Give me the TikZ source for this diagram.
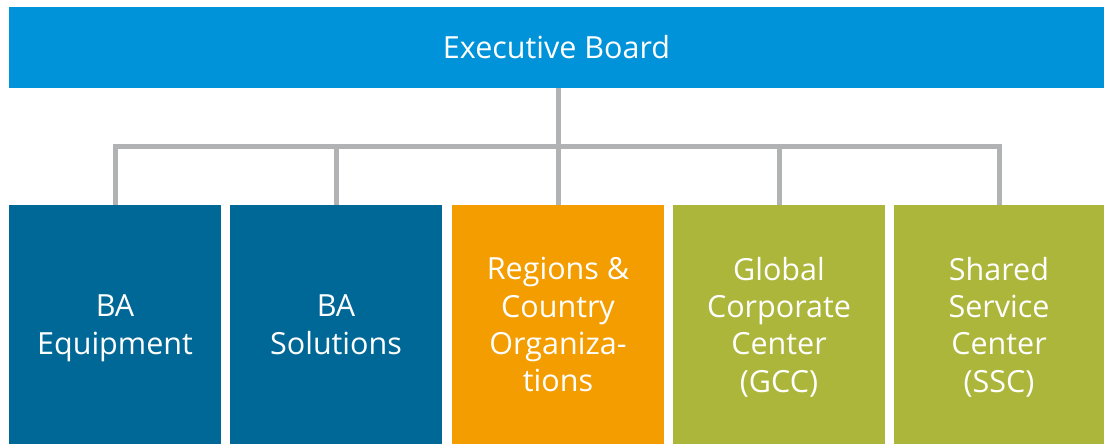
\documentclass[tikz,border=0pt]{standalone}
\usepackage{fontspec}
\setmainfont{Open Sans}
\definecolor{ebblue}{RGB}{0,147,217}
\definecolor{bablue}{RGB}{0,104,150}
\definecolor{rorange}{RGB}{243,157,0}
\definecolor{ggreen}{RGB}{172,182,58}
\definecolor{lgray}{RGB}{177,178,180}
\tikzset{
  box/.style={inner sep=0pt, outer sep=0pt, minimum width=212pt, minimum height=239pt,
    anchor=north west, text=white, align=center, text depth=0pt,
    font=\fontsize{30.5}{37.3}\selectfont},
  bar/.style={inner sep=0pt, outer sep=0pt, anchor=north west, minimum width=1095pt,
    minimum height=81pt, fill=ebblue, text=white, font=\fontsize{30.5}{37}\selectfont},
  conn/.style={draw=lgray, line width=5pt, line join=miter, line cap=butt}
}
\begin{document}
\begin{tikzpicture}[x=1pt,y=-1pt]
\useasboundingbox (0,0) rectangle (1104,444);
\node[bar] (eb) at (9,7) {Executive Board};
\node[box, fill=bablue] (ba1) at (9,205) {BA\\Equipment};
\node[box, fill=bablue] (ba2) at (230,205) {BA\\Solutions};
\node[box, fill=rorange] (ro) at (452,205) {Regions \&\\Country\\Organiza-\\tions};
\node[box, fill=ggreen] (gc) at (673,205) {Global\\Corporate\\Center\\(GCC)};
\node[box, fill=ggreen, minimum width=210pt] (sc) at (894,205) {Shared\\Service\\Center\\(SSC)};
\coordinate (j) at (ro.north |- 0,146.5);
\draw[conn] (ba1.north) -- (ba1.north |- j) -| (sc.north);
\draw[conn] (ro.north) -- (ro.north |- eb.south);
\draw[conn] (ba2.north) -- (ba2.north |- j);
\draw[conn] (gc.north) -- (gc.north |- j);
\end{tikzpicture}
\end{document}
